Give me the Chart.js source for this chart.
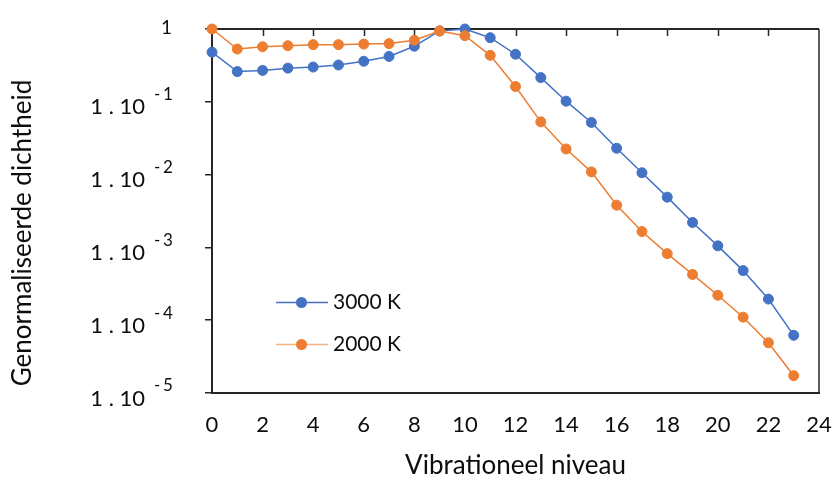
<!DOCTYPE html>
<html>
<head>
<meta charset="utf-8">
<script src="https://cdn.jsdelivr.net/npm/chart.js@4.4.1/dist/chart.umd.min.js"></script>
<style>
  html, body { margin: 0; padding: 0; background: #fff; }
</style>
</head>
<body>
<canvas id="densityChart" width="834" height="480"></canvas>
<script>
// vibrational level populations, normalised to the maximum
const levels = [0, 1, 2, 3, 4, 5, 6, 7, 8, 9, 10, 11, 12, 13, 14, 15, 16, 17, 18, 19, 20, 21, 22, 23];
const dens3000 = [0.48, 0.26, 0.27, 0.29, 0.30, 0.32, 0.36, 0.42, 0.58, 0.94, 1.0, 0.76, 0.45, 0.215,
  0.102, 0.052, 0.023, 0.0106, 0.0049, 0.0022, 0.00105, 0.00048, 0.000195, 0.000062];
const dens2000 = [1.0, 0.53, 0.57, 0.59, 0.61, 0.61, 0.62, 0.63, 0.70, 0.94, 0.81, 0.435, 0.162, 0.053,
  0.0225, 0.0109, 0.0038, 0.00165, 0.00082, 0.000425, 0.00022, 0.00011, 0.000049, 0.0000173];

const seriesLabels = ['3000 K', '2000 K'];
const seriesColors = ['#4472C4', '#ED7D31'];
const xTicks = [0, 2, 4, 6, 8, 10, 12, 14, 16, 18, 20, 22, 24];
const yExponents = [0, -1, -2, -3, -4, -5];
const xTitle = 'Vibrationeel niveau';
const yTitle = 'Genormaliseerde dichtheid';

const FONT = 'Lato, "Open Sans", sans-serif';
const INK = '#0d0d0d';
const FRAME = '#262626';

function points(values) {
  return levels.map((lv, i) => ({ x: lv, y: values[i] }));
}

// frame on top/right with the small inward ticks along the top edge
const frame = {
  id: 'frame',
  beforeDatasetsDraw(chart) {
    const { ctx, chartArea: a, scales: { x } } = chart;
    ctx.save();
    ctx.strokeStyle = FRAME;
    ctx.lineWidth = 2;
    ctx.beginPath();
    ctx.moveTo(a.left, a.top);
    ctx.lineTo(a.right, a.top);
    ctx.stroke();
    ctx.lineWidth = 1.5;
    ctx.beginPath();
    ctx.moveTo(a.right, a.top);
    ctx.lineTo(a.right, a.bottom);
    ctx.stroke();
    xTicks.slice(1, -1).forEach(v => {
      const px = Math.round(x.getPixelForValue(v)) + 0.5;
      ctx.beginPath();
      ctx.moveTo(px, a.top);
      ctx.lineTo(px, a.top + 7);
      ctx.stroke();
    });
    ctx.restore();
  }
};

// tick labels, axis titles and the inset legend
const labels = {
  id: 'labels',
  afterDraw(chart) {
    const { ctx, chartArea: a, scales: { x, y } } = chart;
    ctx.save();
    ctx.fillStyle = INK;
    ctx.textBaseline = 'middle';

    ctx.font = '22px ' + FONT;
    ctx.textAlign = 'center';
    xTicks.forEach(v => ctx.fillText(String(v), x.getPixelForValue(v), 425));

    yExponents.forEach(e => {
      const py = y.getPixelForValue(Math.pow(10, e));
      if (e === 0) {
        ctx.font = '19px ' + FONT;
        ctx.textAlign = 'right';
        ctx.fillText('1', 172, py - 1);
        return;
      }
      ctx.font = '22px ' + FONT;
      ctx.textAlign = 'right';
      ctx.fillText('1 . 10', 145, py + 5.5);
      // exponent: spaced minus sign and digit, raised
      ctx.font = '17px ' + FONT;
      ctx.textAlign = 'left';
      ctx.fillText('-', 154, py - 7);
      ctx.fillText(String(-e), 163, py - 7);
    });

    ctx.font = '26px ' + FONT;
    ctx.textAlign = 'center';
    ctx.fillText(xTitle, (a.left + a.right) / 2, 466);

    ctx.save();
    ctx.translate(23, 233);
    ctx.rotate(-Math.PI / 2);
    ctx.fillText(yTitle, 0, 0);
    ctx.restore();

    const rows = [302.5, 344.5];
    chart.data.datasets.forEach((ds, i) => {
      const ly = rows[i];
      ctx.strokeStyle = ds.borderColor;
      ctx.globalAlpha = i === 1 ? 0.6 : 1;
      ctx.lineWidth = 1.5;
      ctx.beginPath();
      ctx.moveTo(276, ly);
      ctx.lineTo(328, ly);
      ctx.stroke();
      ctx.globalAlpha = 1;
      ctx.fillStyle = ds.backgroundColor;
      ctx.beginPath();
      ctx.arc(301.5, ly, 5.5, 0, Math.PI * 2);
      ctx.fill();
      ctx.fillStyle = INK;
      ctx.font = '21px ' + FONT;
      ctx.textAlign = 'left';
      ctx.fillText(ds.label, 333, ly);
    });
    ctx.restore();
  }
};

new Chart(document.getElementById('densityChart'), {
  type: 'line',
  data: {
    datasets: [
      {
        label: seriesLabels[0],
        data: points(dens3000),
        borderColor: seriesColors[0],
        backgroundColor: seriesColors[0],
        pointBackgroundColor: seriesColors[0],
        pointBorderColor: seriesColors[0],
        order: 1
      },
      {
        label: seriesLabels[1],
        data: points(dens2000),
        borderColor: seriesColors[1],
        backgroundColor: seriesColors[1],
        pointBackgroundColor: seriesColors[1],
        pointBorderColor: seriesColors[1],
        order: 0
      }
    ]
  },
  options: {
    responsive: false,
    animation: false,
    layout: { padding: { top: 29, right: 15, left: 0, bottom: 0 } },
    elements: {
      line: { borderWidth: 1.5, tension: 0 },
      point: { radius: 5, borderWidth: 1, hoverRadius: 5 }
    },
    datasets: { line: { clip: false } },
    plugins: {
      legend: { display: false },
      tooltip: { enabled: false }
    },
    scales: {
      x: {
        type: 'linear',
        min: 0,
        max: 24,
        afterBuildTicks(scale) { scale.ticks = xTicks.map(v => ({ value: v })); },
        afterFit(scale) { scale.height = 87; },
        ticks: { display: false },
        grid: { drawOnChartArea: false, drawTicks: false },
        border: { color: FRAME, width: 2 }
      },
      y: {
        type: 'logarithmic',
        min: 1e-5,
        max: 1,
        afterBuildTicks(scale) { scale.ticks = yExponents.map(e => ({ value: Math.pow(10, e) })); },
        afterFit(scale) { scale.width = 212; },
        ticks: { display: false },
        grid: { drawOnChartArea: false, drawTicks: true, tickLength: 7, color: FRAME, lineWidth: 1.5 },
        border: { color: FRAME, width: 2 }
      }
    }
  },
  plugins: [frame, labels]
});
</script>
</body>
</html>
